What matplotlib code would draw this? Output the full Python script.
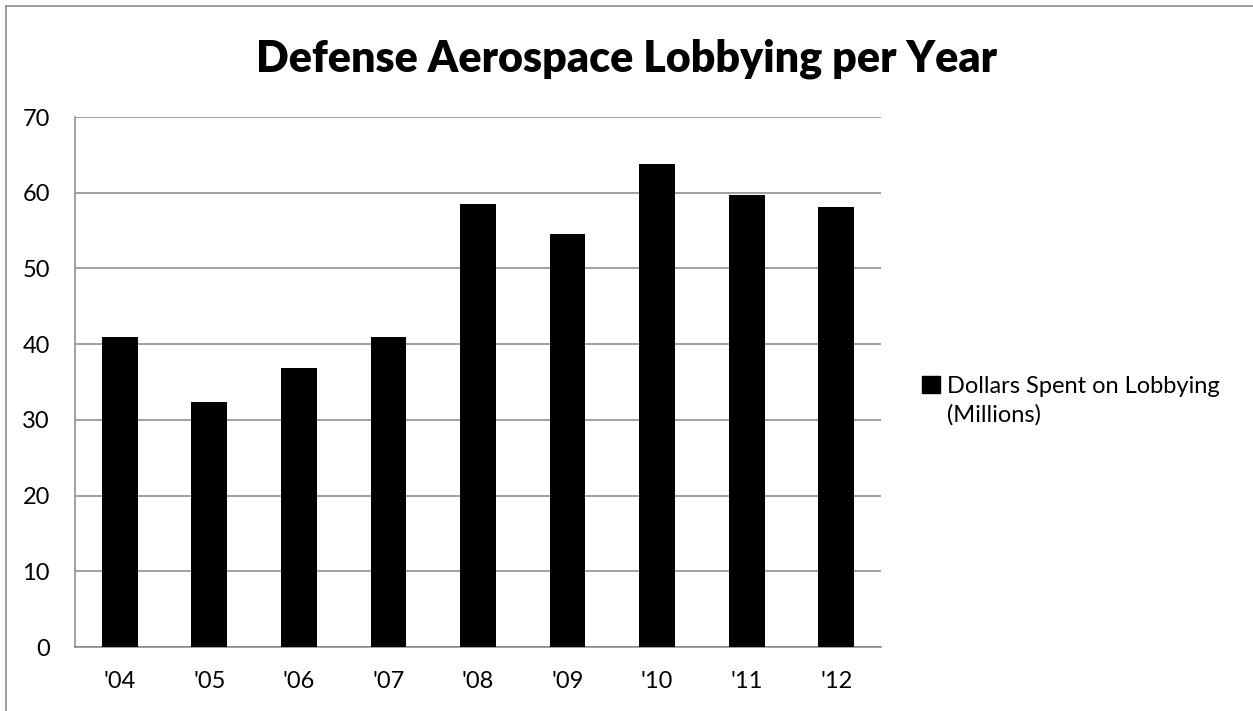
import matplotlib.pyplot as plt
from matplotlib.lines import Line2D
from matplotlib.patches import Patch

plt.rcParams['font.family'] = ['Lato', 'DejaVu Sans']

# data
years = ["'04", "'05", "'06", "'07", "'08", "'09", "'10", "'11", "'12"]
spent = [41.0, 32.4, 36.8, 40.9, 58.5, 54.5, 63.8, 59.7, 58.1]
y_ticks = [0, 10, 20, 30, 40, 50, 60, 70]

grid_col = '#868686'

fig = plt.figure(figsize=(12.53, 7.11), dpi=100)
ax = fig.add_axes([75/1253, 64/711, 806/1253, 530/711])

x = list(range(len(years)))
ax.bar(x, spent, width=0.40, color='black', zorder=3)

ax.set_xlim(-0.5, len(years) - 0.5)
ax.set_ylim(0, 70)
ax.set_yticks(y_ticks)
ax.set_xticks(x)
ax.set_xticklabels(years)
ax.yaxis.grid(True, color=grid_col, linewidth=1.1)
ax.set_axisbelow(True)

for s in ['top', 'right']:
    ax.spines[s].set_visible(False)
for s in ['left', 'bottom']:
    ax.spines[s].set_color(grid_col)
    ax.spines[s].set_linewidth(1.1)

ax.tick_params(axis='both', length=0, labelsize=17, labelcolor='black')
ax.tick_params(axis='y', pad=18)
ax.tick_params(axis='x', pad=17)

fig.suptitle('Defense Aerospace Lobbying per Year', fontsize=31, fontweight='heavy',
             x=0.5, y=0.946, va='top')

# legend: square aligned with first line of the label
h1 = Patch(facecolor='black', edgecolor='black')
h2 = Patch(facecolor='none', edgecolor='none')
fig.legend([h1, h2], ['Dollars Spent on Lobbying', '(Millions)'],
           loc='upper left', bbox_to_anchor=(922/1253, 1 - 376/711),
           frameon=False, fontsize=17, handlelength=0.75, handleheight=0.75,
           handletextpad=0.3, labelspacing=0.3, borderpad=0, borderaxespad=0)

# thin grey frame along the left and top edges
fig.add_artist(Line2D([5.5/1253, 5.5/1253], [0, 1 - 5.5/711], color='#8c8c8c', linewidth=1.2))
fig.add_artist(Line2D([5.5/1253, 1], [1 - 5.5/711, 1 - 5.5/711], color='#8c8c8c', linewidth=1.2))

plt.savefig('out.png', dpi=100)
